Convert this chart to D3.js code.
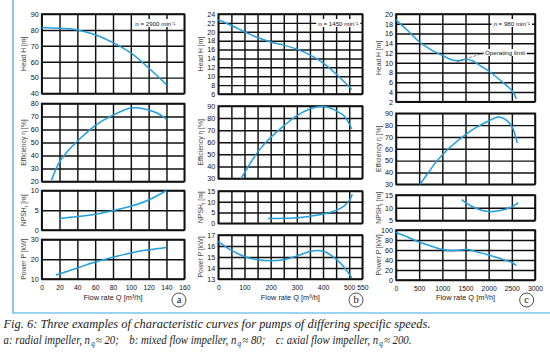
<!DOCTYPE html>
<html>
<head>
<meta charset="utf-8">
<script src="https://cdn.jsdelivr.net/npm/d3@7/dist/d3.min.js"></script>
<style>
  body { margin: 0; background: #fff; }
</style>
</head>
<body>
<svg id="chart" width="550" height="353"></svg>
<script>
// Pump characteristic curves, three impeller types

// --- panel a: radial impeller, 2900 1/min ---
const flowTicksA = [0, 20, 40, 60, 80, 100, 120, 140, 160];
const headTicksA = [40, 50, 60, 70, 80, 90];
const effTicksA = [20, 30, 40, 50, 60, 70, 80];
const npshTicksA = [0, 5, 10];
const powerTicksA = [10, 20, 30];
const headA = [[0, 81.5], [20, 81], [40, 80], [60, 77], [80, 72], [100, 65.5], [120, 56], [140, 45.5]];
const effA = [[11, 21], [15, 28], [20, 35], [30, 44], [40, 51], [60, 63], [80, 71], [100, 76.5], [110, 76.6], [120, 75], [130, 72.5], [140, 68]];
const npshA = [[20, 2.9], [40, 3.4], [60, 4], [80, 4.9], [100, 6], [120, 7.6], [140, 10]];
const powerA = [[16, 12], [40, 15.6], [60, 18.6], [80, 21], [100, 23.2], [120, 24.8], [140, 26]];

// --- panel b: mixed flow impeller, 1450 1/min ---
const flowTicksB = [0, 100, 200, 300, 400, 500, 550];
const flowGridB = [0, 50, 100, 150, 200, 250, 300, 350, 400, 450, 500, 550];
const headTicksB = [6, 8, 10, 12, 14, 16, 18, 20, 22, 24];
const effTicksB = [30, 40, 50, 60, 70, 80, 90];
const npshTicksB = [0, 5, 10, 15];
const powerTicksB = [13, 14, 15, 16, 17];
const headB = [[0, 22.7], [50, 21.4], [100, 20], [150, 18.7], [200, 17.7], [250, 17], [300, 16.1], [350, 14.8], [400, 13], [450, 10.5], [510, 7]];
const effB = [[87, 30], [144, 50], [182, 60], [250, 73.5], [300, 82], [350, 87.5], [390, 89.5], [420, 89], [450, 86], [480, 82], [510, 71]];
const npshB = [[190, 2.2], [250, 2.3], [300, 2.6], [350, 3.3], [400, 4.3], [450, 6], [480, 8], [500, 10.5], [512, 13.5]];
const powerB = [[0, 16.4], [50, 15.6], [100, 15.05], [150, 14.75], [200, 14.65], [250, 14.75], [300, 15.1], [350, 15.5], [380, 15.6], [410, 15.45], [450, 14.8], [480, 14.1], [510, 13.1]];

// --- panel c: axial flow impeller, 980 1/min ---
const flowTicksC = [0, 500, 1000, 1500, 2000, 2500, 3000];
const headTicksC = [2, 4, 6, 8, 10, 12, 14, 16, 18, 20];
const effTicksC = [30, 40, 50, 60, 70, 80, 90];
const npshTicksC = [5, 10, 15];
const powerTicksC = [0, 20, 40, 60, 80, 100];
const headC = [[0, 18.8], [250, 16.6], [500, 14.3], [750, 12.7], [1000, 11.5], [1200, 10.6], [1350, 10.4], [1500, 10.7], [1650, 10.4], [1800, 9.5], [2000, 8.3], [2250, 6.4], [2500, 4.3], [2600, 2.6]];
const effC = [[518, 30], [700, 40], [890, 50], [1130, 60], [1500, 72], [1750, 78.5], [2000, 83.5], [2200, 86.8], [2350, 85], [2500, 79], [2560, 73], [2620, 65]];
const npshC = [[1420, 13.2], [1500, 12], [1750, 9.6], [2000, 8.5], [2250, 8.9], [2500, 10.3], [2640, 12]];
const powerC = [[0, 95], [250, 86], [500, 76], [750, 68], [1000, 61], [1200, 58.5], [1400, 60], [1550, 61], [1750, 56], [2000, 50], [2250, 43], [2500, 35], [2600, 29]];

const speeds = ['n = 2900 min⁻¹', 'n = 1450 min⁻¹', 'n = 980 min⁻¹'];
const letters = ['a', 'b', 'c'];
const captionLine1 = 'Fig. 6: Three examples of characteristic curves for pumps of differing specific speeds.';
const captionParts = [['a: radial impeller, n', '20;'], ['b: mixed flow impeller, n', '80;'], ['c: axial flow impeller, n', '200.']];

const curveColor = '#1e9fe0';
const sans = '"Liberation Sans", Arial, sans-serif';
const serif = '"Liberation Serif", "Times New Roman", serif';
const svg = d3.select('#chart');

// layout of the three panels (pixel boxes)
const panels = [
  { left: 41.7, right: 184.3, xDom: [0, 160], xGrid: flowTicksA, xTicks: flowTicksA, speedRight: 9,
    rows: [
      { title: 'head', dom: [40, 90], ticks: headTicksA, top: 14, bottom: 93.5, data: headA },
      { title: 'eff', dom: [20, 80], ticks: effTicksA, top: 103.5, bottom: 181.5, data: effA },
      { title: 'npsh', dom: [0, 10], ticks: npshTicksA, top: 190.5, bottom: 230, data: npshA },
      { title: 'power', dom: [10, 30], ticks: powerTicksA, top: 239.5, bottom: 279, data: powerA }
    ] },
  { left: 218.3, right: 362.3, xDom: [0, 550], xGrid: flowGridB, xTicks: flowTicksB, speedRight: 4,
    rows: [
      { title: 'head', dom: [6, 24], ticks: headTicksB, top: 14, bottom: 94, data: headB },
      { title: 'eff', dom: [30, 90], ticks: effTicksB, top: 106, bottom: 178.5, data: effB },
      { title: 'npsh', dom: [0, 15], ticks: npshTicksB, top: 191, bottom: 223.3, data: npshB },
      { title: 'power', dom: [13, 17], ticks: powerTicksB, top: 235, bottom: 279, data: powerB }
    ] },
  { left: 396, right: 535, xDom: [0, 3000], xGrid: flowTicksC, xTicks: flowTicksC, speedRight: 5,
    rows: [
      { title: 'head', dom: [2, 20], ticks: headTicksC, top: 14, bottom: 101.7, data: headC },
      { title: 'eff', dom: [30, 90], ticks: effTicksC, top: 113.3, bottom: 184.3, data: effC },
      { title: 'npsh', dom: [5, 15], ticks: npshTicksC, top: 195, bottom: 220.5, data: npshC },
      { title: 'power', dom: [0, 100], ticks: powerTicksC, top: 230, bottom: 280, data: powerC }
    ] }
];

// blue frame
svg.append('path')
  .attr('d', 'M13,0V313H550')
  .attr('fill', 'none').attr('stroke', '#3ba7e0').attr('stroke-width', 1.2);

function yTitle(g, kind, x, y) {
  const t = g.append('text')
    .attr('transform', `translate(${x},${y}) rotate(-90)`)
    .attr('text-anchor', 'middle')
    .style('font-family', sans)
    .attr('font-size', 6.8).attr('fill', '#444');
  if (kind === 'head') t.text('Head H [m]');
  if (kind === 'eff') t.text('Efficiency η [%]');
  if (kind === 'power') t.text('Power P [kW]');
  if (kind === 'npsh') {
    t.append('tspan').text('NPSH');
    t.append('tspan').attr('font-size', 4.8).attr('baseline-shift', '-1.5').text('r');
    t.append('tspan').text(' [m]');
  }
}

panels.forEach((p, i) => {
  const g = svg.append('g');
  const x = d3.scaleLinear().domain(p.xDom).range([p.left, p.right]);

  p.rows.forEach(r => {
    const y = d3.scaleLinear().domain(r.dom).range([r.bottom, r.top]);

    // vertical grid
    g.append('g')
      .attr('transform', `translate(0,${r.bottom})`)
      .call(d3.axisBottom(x).tickValues(p.xGrid).tickSize(-(r.bottom - r.top)).tickFormat(''))
      .call(a => a.select('.domain').remove())
      .call(a => a.selectAll('line').attr('stroke', '#111').attr('stroke-width', 1.45));

    // horizontal grid + labels
    g.append('g')
      .attr('transform', `translate(${p.left},0)`)
      .call(d3.axisLeft(y).tickValues(r.ticks).tickSize(-(p.right - p.left)).tickPadding(3).tickFormat(d3.format('d')))
      .call(a => a.select('.domain').remove())
      .call(a => a.selectAll('line').attr('stroke', '#111').attr('stroke-width', 1.45))
      .call(a => a.selectAll('text').attr('font-size', 7.2).attr('fill', '#111')
        .style('font-family', sans));

    // frame
    g.append('rect')
      .attr('x', p.left).attr('y', r.top)
      .attr('width', p.right - p.left).attr('height', r.bottom - r.top)
      .attr('fill', 'none').attr('stroke', '#111').attr('stroke-width', 1.6);

    yTitle(g, r.title, p.left - 15.5, (r.top + r.bottom) / 2);

    // curve
    g.append('path')
      .datum(r.data)
      .attr('fill', 'none')
      .attr('stroke', curveColor)
      .attr('stroke-width', 1.5)
      .attr('d', d3.line().x(d => x(d[0])).y(d => y(d[1])).curve(d3.curveCatmullRom.alpha(0.5)));
  });

  // flow rate ticks
  const last = p.rows[p.rows.length - 1];
  g.append('g')
    .attr('transform', `translate(0,${last.bottom})`)
    .call(d3.axisBottom(x).tickValues(p.xTicks).tickSize(0).tickPadding(6).tickFormat(d3.format('d')))
    .call(a => a.select('.domain').remove())
    .call(a => a.selectAll('text').attr('font-size', 6.8).attr('fill', '#111')
      .style('font-family', sans));

  g.append('text')
    .attr('x', (p.left + p.right) / 2).attr('y', 300)
    .attr('text-anchor', 'middle').attr('font-size', 7.4).attr('fill', '#222')
    .style('font-family', sans)
    .text('Flow rate Q [m³/h]');

  // speed label in the head chart
  const head = p.rows[0];
  const st = g.append('text')
    .attr('x', p.right - p.speedRight).attr('y', head.top + 11.5)
    .attr('text-anchor', 'end').attr('font-size', 6.2).attr('fill', '#111')
    .style('font-family', sans)
    .text(speeds[i]);
  const bb = st.node().getBBox();
  g.insert('rect', function () { return st.node(); })
    .attr('x', bb.x - 2).attr('y', bb.y - 0.5)
    .attr('width', bb.width + 4).attr('height', bb.height + 1)
    .attr('fill', '#fff');

  // circled panel letter
  const cx = [179, 356, 526.7][i];
  g.append('circle').attr('cx', cx).attr('cy', 300).attr('r', 7)
    .attr('fill', '#fff').attr('stroke', '#222').attr('stroke-width', 0.8);
  g.append('text').attr('x', cx).attr('y', 303.3)
    .attr('text-anchor', 'middle').attr('font-size', 10.5)
    .style('font-family', serif).attr('fill', '#111')
    .text(letters[i]);
});

// operating limit annotation (panel c head)
{
  const p = panels[2];
  const r = p.rows[0];
  const x = d3.scaleLinear().domain(p.xDom).range([p.left, p.right]);
  const y = d3.scaleLinear().domain(r.dom).range([r.bottom, r.top]);
  const t = svg.append('text')
    .attr('x', 505).attr('y', y(12) + 2)
    .attr('text-anchor', 'middle').attr('font-size', 6.2).attr('fill', '#111')
    .style('font-family', sans)
    .text('Operating limit');
  const bb = t.node().getBBox();
  svg.insert('rect', function () { return t.node(); })
    .attr('x', bb.x - 1.5).attr('y', bb.y)
    .attr('width', bb.width + 3).attr('height', bb.height)
    .attr('fill', '#fff');
  svg.append('line')
    .attr('x1', x(1300)).attr('y1', y(10.1))
    .attr('x2', bb.x - 1.5).attr('y2', y(12))
    .attr('stroke', '#666').attr('stroke-width', 0.8).attr('stroke-dasharray', '3,1.5');
}

// caption
svg.append('text').attr('x', 3.5).attr('y', 328)
  .style('font-family', serif).style('font-style', 'italic')
  .attr('fill', '#222').attr('font-size', 11.5)
  .attr('textLength', 427).attr('lengthAdjust', 'spacingAndGlyphs')
  .text(captionLine1);

// second line: pieces laid out one after another (subscript q as its own text),
// then the whole group squeezed horizontally to the width of the original line
{
  const capG = svg.append('g')
    .style('font-family', serif).style('font-style', 'italic').attr('fill', '#222');
  const pieces = [];
  captionParts.forEach((pt, k) => {
    pieces.push({ s: pt[0], sub: false, pad: 1.2 });
    pieces.push({ s: 'q', sub: true, pad: 1.2 });
    pieces.push({ s: '≈ ' + pt[1], sub: false, pad: k < 2 ? 11 : 0 });
  });
  let cx = 0;
  pieces.forEach(pc => {
    const t = capG.append('text')
      .attr('x', cx).attr('y', pc.sub ? 346.5 : 344)
      .attr('font-size', pc.sub ? 7.5 : 11.5)
      .text(pc.s);
    cx += t.node().getComputedTextLength() + pc.pad;
  });
  const sx = Math.min(1, 408 / cx);
  capG.attr('transform', `translate(3.5,0) scale(${sx},1)`);
}
</script>
</body>
</html>
